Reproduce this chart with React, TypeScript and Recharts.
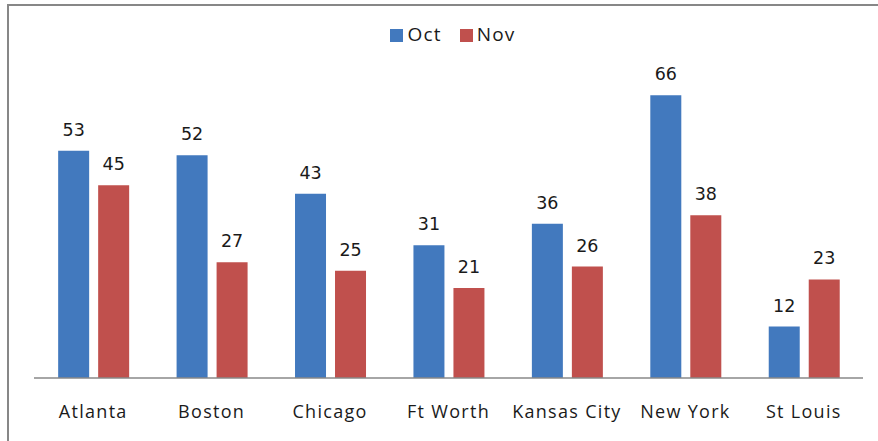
import React from "react";
import { BarChart, Bar, XAxis, YAxis, Legend, LabelList } from "recharts";

const cities = ["Atlanta", "Boston", "Chicago", "Ft Worth", "Kansas City", "New York", "St Louis"];
const octValues = [53, 52, 43, 31, 36, 66, 12];
const novValues = [45, 27, 25, 21, 26, 38, 23];

const data = cities.map((c, i) => ({ city: c, Oct: octValues[i], Nov: novValues[i] }));

const BLUE = "#4279BE";
const RED = "#C0504D";
const labelFont = "'DejaVu Sans', sans-serif";
const axisFont = "'Open Sans', sans-serif";

export default function App() {
  return (
    <div style={{ position: "absolute", left: 0, top: 0, width: 878, height: 441, background: "#fff", overflow: "hidden" }}>
      <div
        style={{
          position: "absolute",
          left: 7,
          top: 4,
          width: 900,
          height: 500,
          borderTop: "2px solid #878787",
          borderLeft: "2px solid #878787",
        }}
      />
      <div style={{ position: "absolute", left: 0, top: 0 }}>
        <BarChart
          width={878}
          height={441}
          data={data}
          margin={{ top: 78, right: 15, bottom: 33, left: 34 }}
          barGap={9}
          barCategoryGap="20.4%"
        >
          <XAxis
            dataKey="city"
            axisLine={{ stroke: "#888888", strokeWidth: 1.5 }}
            tickLine={false}
            tickSize={0}
            tickMargin={27}
            height={30}
            interval={0}
            tick={{ fill: "#1a1a1a", fontSize: 18, fontFamily: axisFont, letterSpacing: 1.3 }}
          />
          <YAxis hide domain={[0, 70]} />
          <Legend
            verticalAlign="middle"
            layout="horizontal"
            align="center"
            iconType="square"
            iconSize={13}
            itemSorter={(item: any) => (item.dataKey === "Oct" ? 0 : 1)}
            wrapperStyle={{ top: 21, left: 23, width: 878, fontFamily: axisFont, fontSize: 19, letterSpacing: 1.2 }}
            formatter={(v) => <span style={{ color: "#1a1a1a", marginRight: 8 }}>{v}</span>}
          />
          <Bar dataKey="Oct" fill={BLUE} isAnimationActive={false}>
            <LabelList dataKey="Oct" position="top" offset={15} fill="#1a1a1a" fontSize={17.5} fontFamily={labelFont} />
          </Bar>
          <Bar dataKey="Nov" fill={RED} isAnimationActive={false}>
            <LabelList dataKey="Nov" position="top" offset={15} fill="#1a1a1a" fontSize={17.5} fontFamily={labelFont} />
          </Bar>
        </BarChart>
      </div>
    </div>
  );
}
